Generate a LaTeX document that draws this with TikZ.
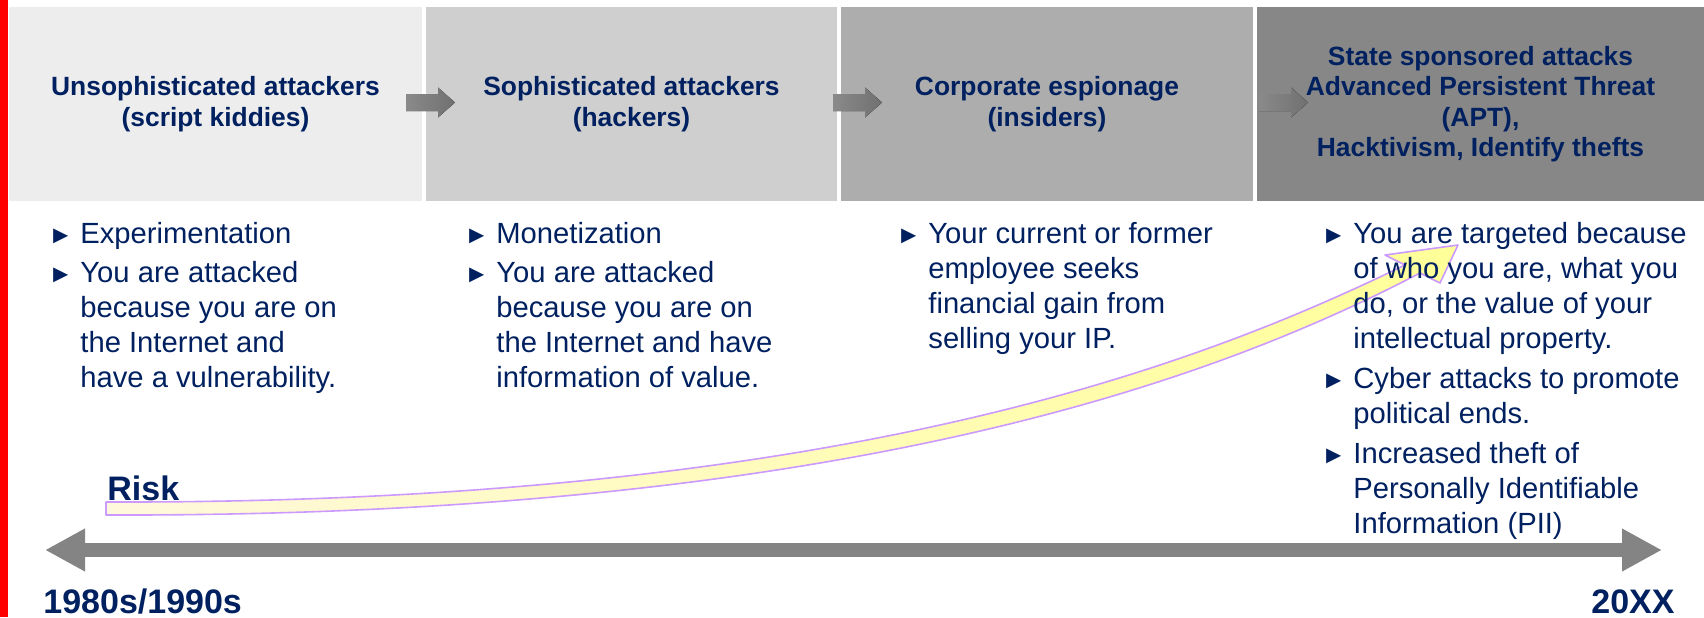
\documentclass[tikz,border=0pt]{standalone}
\usepackage{fontspec}
\setmainfont{Liberation Sans}
\usetikzlibrary{arrows.meta}

\definecolor{navy}{HTML}{002060}
\definecolor{shadeA}{HTML}{EDEDED}
\definecolor{shadeB}{HTML}{CFCFCF}
\definecolor{shadeC}{HTML}{ADADAD}
\definecolor{shadeD}{HTML}{878787}
\definecolor{axisgray}{HTML}{848484}
\definecolor{lilac}{HTML}{CC99FF}
\definecolor{cream}{HTML}{FFF8DC}
\definecolor{lemon}{HTML}{FFFF99}

\newcommand{\blt}{\strut\makebox[14pt][l]{\hspace*{-2pt}\fontsize{12.5}{12.5}\selectfont ►}}
\newcommand{\ind}{\hspace*{14pt}}

\tikzset{
  era/.style={minimum width=#1, minimum height=97pt, inner sep=0pt, align=center,
    text=navy, font=\fontsize{13.2}{15.25}\selectfont\bfseries},
  note/.style={anchor=north west, inner sep=0pt, align=left, text=navy,
    font=\fontsize{14.6}{17.5}\selectfont},
  pointer/.style={left color=black!46, right color=black!56},
  risk/.style={draw=lilac, line width=0.8pt, line join=round, left color=cream, right color=lemon},
  big/.style={inner sep=0pt, text=navy, font=\fontsize{17}{20}\selectfont\bfseries}
}

\begin{document}
\begin{tikzpicture}[x=0.5pt, y=-0.5pt]
  \useasboundingbox (0,0) rectangle (1704,617);
  \fill[red] (0,0) rectangle (8,617);

  % eras
  \node[era=206.5pt, fill=shadeA] (era1) at (215.5,104) {Unsophisticated attackers\\(script kiddies)};
  \node[era=205.5pt, fill=shadeB] (era2) at (631.5,104) {Sophisticated attackers\\(hackers)};
  \node[era=206pt, fill=shadeC] (era3) at (1047,104) {Corporate espionage\\(insiders)};
  \node[era=223.5pt, fill=shadeD] (era4) at (1480.5,104) {State sponsored attacks\\Advanced Persistent Threat\\(APT),\\Hacktivism, Identify thefts};

  \fill[pointer] (406,94) -- ++(32,0) -- ++(0,-6.5) -- ++(17,15) -- ++(-17,15) -- ++(0,-6.5) -- ++(-32,0) -- cycle;
  \fill[pointer] (833,94) -- ++(32,0) -- ++(0,-6.5) -- ++(17,15) -- ++(-17,15) -- ++(0,-6.5) -- ++(-32,0) -- cycle;
  \fill[pointer] (1259,94) -- ++(32,0) -- ++(0,-6.5) -- ++(17,15) -- ++(-17,15) -- ++(0,-6.5) -- ++(-32,0) -- cycle;

  % risk curve
  \draw[risk] (106,502) .. controls (850,504) and (1205,362) .. (1405,265) -- (1385,255) -- (1458,245)
    -- (1440,283) -- (1420,273) .. controls (1219,378) and (850,517) .. (106,515) -- cycle;
  \node[big, anchor=base west] (risk) at (107,500) {Risk};

  % notes
  \node[note] (note1) at (52,218.5) {\blt Experimentation\\[2pt]
    \blt You are attacked\\ \ind because you are on\\ \ind the Internet and\\ \ind have a vulnerability.};
  \node[note] (note2) at (468,218.5) {\blt Monetization\\[2pt]
    \blt You are attacked\\ \ind because you are on\\ \ind the Internet and have\\ \ind information of value.};
  \node[note] (note3) at (900,218.5) {\blt Your current or former\\ \ind employee seeks\\
    \ind financial gain from\\ \ind selling your IP.};
  \node[note] (note4) at (1325,218.5) {\blt You are targeted because\\ \ind of who you are, what you\\
    \ind do, or the value of your\\ \ind intellectual property.\\[2.5pt]
    \blt Cyber attacks to promote\\ \ind political ends.\\[2.5pt]
    \blt Increased theft of\\ \ind Personally Identifiable\\ \ind Information (PII)};

  % timeline
  \coordinate (past) at (45,550);
  \coordinate (now) at (1662,550);
  \draw[axisgray, line width=7pt, {Triangle[width=20pt,length=20pt]}-{Triangle[width=20pt,length=20pt]}] (past) -- (now);
  \node[big, anchor=base west] (from) at (43,613) {1980s/1990s};
  \node[big, anchor=base east] (to) at (1675,613) {20XX};
\end{tikzpicture}
\end{document}
